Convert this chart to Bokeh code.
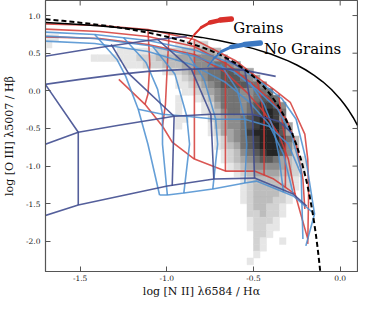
from bokeh.plotting import figure
from bokeh.models import FixedTicker, PrintfTickFormatter, ColumnDataSource
from bokeh.core.properties import value
from bokeh.embed import file_html
from bokeh.resources import INLINE

# ---------------- data ----------------
X_TICKS = [-1.5, -1.0, -0.5, 0.0]
Y_TICKS = [-2.0, -1.5, -1.0, -0.5, 0.0, 0.5, 1.0]

# Kewley et al. (2001) maximum starburst line (solid)
KEW_X = [-1.7, -1.6, -1.5, -1.4, -1.3, -1.2, -1.1, -1.0, -0.9, -0.8, -0.7, -0.6, -0.5,
         -0.4, -0.3, -0.25, -0.2, -0.15, -0.1, -0.05, 0.0, 0.025, 0.05, 0.075, 0.1]
KEW_Y = [0.909, 0.895, 0.880, 0.864, 0.845, 0.825, 0.801, 0.775, 0.745, 0.710, 0.669, 0.620, 0.561,
         0.489, 0.398, 0.343, 0.280, 0.206, 0.120, 0.017, -0.108, -0.181, -0.262, -0.354, -0.459]

# Kauffmann et al. (2003) line (dashed)
KAU_X = [-1.7, -1.6, -1.5, -1.4, -1.3, -1.2, -1.1, -1.0, -0.9, -0.8, -0.75, -0.7, -0.65, -0.6,
         -0.55, -0.5, -0.45, -0.4, -0.35, -0.325, -0.3, -0.275, -0.25, -0.225, -0.2, -0.19,
         -0.175, -0.16, -0.15, -0.14, -0.13, -0.12, -0.11]
KAU_Y = [0.951, 0.930, 0.906, 0.879, 0.848, 0.812, 0.770, 0.719, 0.658, 0.582, 0.538, 0.487, 0.429,
         0.362, 0.283, 0.191, 0.080, -0.056, -0.225, -0.327, -0.443, -0.577, -0.733, -0.918, -1.140,
         -1.242, -1.411, -1.605, -1.750, -1.911, -2.089, -2.288, -2.513]

# SDSS density histogram: (row, first column, digits = density level 0-9)
HIST_X0, HIST_DX = -1.7, 0.0375
HIST_Y0, HIST_DY = 1.2, 0.09
HEAT = [
    (5, 0, "11"),
    (6, 0, "1"), (6, 20, "11122"),
    (7, 11, "1111112222333443"),
    (8, 7, "111111122233344455543"),
    (9, 12, "111222333445556654"),
    (10, 18, "12234556677654"),
    (11, 20, "1234566777654"),
    (12, 20, "11234567777665"),
    (13, 21, "11234566655666"),
    (14, 20, "1"), (14, 23, "1235666556776"),
    (15, 20, "1"), (15, 24, "1246665678875"),
    (16, 20, "1"), (16, 24, "1235665678986"),
    (17, 20, "11"), (17, 25, "234556789985"),
    (18, 20, "1"), (18, 25, "1345567899974"),
    (19, 25, "1244568999974"),
    (20, 26, "1245678999863"),
    (21, 26, "1234678999853"),
    (22, 27, "123567899752"),
    (23, 27, "1234567764321"),
    (24, 28, "123455554321"),
    (25, 29, "12344443321"),
    (26, 30, "123333221"),
    (27, 30, "123333321"),
    (28, 30, "12333321"),
    (29, 30, "12333221"),
    (30, 31, "233221"),
    (31, 31, "223221"),
    (32, 31, "12221"),
    (33, 31, "12211"),
    (34, 32, "221"),
    (35, 32, "21"), (35, 36, "1"),
    (36, 32, "21"),
    (37, 32, "1"),
    (38, 31, "1"),
]
GREYS = ["#ffffff", "#e6e6e6", "#d2d2d2", "#bdbdbd", "#a5a5a5",
         "#8c8c8c", "#737373", "#595959", "#3e3e3e", "#252525"]

# model grid where both models coincide (dark blue)
DARK_X = [
    [-1.779, -1.511, -0.997, -0.729, -0.494, -0.271, -0.193],
    [-1.779, -1.511, -1.277, -0.958, -0.746, -0.506, -0.355, -0.271],
    [-1.779, -1.500, -1.277, -1.109, -0.885, -0.718, -0.550, -0.372],
    [-1.779, -1.500, -1.349, -1.109, -0.885],
    [-1.779, -1.701, -1.511, -1.511],
    [-1.321, -1.221, -0.958, -0.969],
    [-1.053, -0.858, -0.746, -0.729],
    [-0.662, -0.550, -0.506, -0.494],
]
DARK_Y = [
    [-1.715, -1.517, -1.265, -1.172, -1.159, -1.371, -1.530],
    [-0.775, -0.550, -0.457, -0.338, -0.311, -0.311, -0.404, -0.576],
    [0.060, 0.152, 0.219, 0.258, 0.285, 0.298, 0.272, 0.192],
    [0.430, 0.536, 0.589, 0.669, 0.722],
    [0.351, 0.086, -0.550, -1.517],
    [0.616, 0.232, -0.338, -1.265],
    [0.682, 0.285, -0.311, -1.172],
    [0.430, 0.272, -0.311, -1.159],
]

# "Grains" model grid (red)
RED_X = [
    [-1.779, -1.388, -1.109, -0.841, -0.606, -0.494, -0.383, -0.288, -0.243, -0.204, -0.187, -0.182, -0.187],
    [-1.779, -1.388, -1.109, -0.841, -0.651, -0.517, -0.405, -0.310, -0.254, -0.215, -0.204],
    [-1.779, -1.388, -1.109, -0.841, -0.662, -0.539, -0.439, -0.355, -0.299, -0.260],
    [-1.277, -1.126, -1.025, -0.969, -0.841, -0.662, -0.494, -0.383, -0.260, -0.187],
    [-1.109, -1.098, -1.109, -1.126],
    [-0.986, -0.997, -1.008, -1.025],
    [-0.841, -0.841, -0.841],
    [-0.662, -0.662, -0.662],
    [-0.483, -0.439, -0.439],
    [-0.355, -0.316, -0.316],
]
RED_Y = [
    [0.894, 0.868, 0.815, 0.682, 0.404, 0.205, 0.020, -0.152, -0.377, -0.576, -0.907, -1.371, -2.033],
    [0.828, 0.788, 0.722, 0.589, 0.351, 0.113, -0.113, -0.377, -0.709, -1.172, -1.570],
    [0.722, 0.695, 0.616, 0.483, 0.245, -0.020, -0.285, -0.576, -0.907, -1.371],
    [0.152, -0.179, -0.470, -0.682, -0.907, -1.066, -1.066, -1.172, -1.371, -1.967],
    [0.815, 0.351, -0.046, -0.179],
    [0.775, 0.351, -0.179, -0.470],
    [0.682, -0.046, -0.907],
    [0.457, -0.311, -1.066],
    [0.192, -0.311, -1.120],
    [-0.046, -0.709, -1.280],
]

# "No Grains" model grid (blue)
BLUE_X = [
    [-1.779, -1.416, -1.109, -0.830, -0.606, -0.466, -0.338, -0.254, -0.198, -0.148, -0.198],
    [-1.779, -1.416, -1.109, -0.830, -0.617, -0.483, -0.360, -0.282, -0.226, -0.215],
    [-1.779, -1.416, -1.109, -0.858, -0.662, -0.522, -0.411, -0.327, -0.271],
    [-1.165, -1.025, -0.885, -0.718, -0.550, -0.411, -0.299, -0.226],
    [-1.042, -0.997, -0.902, -0.735, -0.550, -0.483, -0.271, -0.148],
    [-1.416, -1.288, -1.237, -1.165, -1.109, -1.042],
    [-1.249, -1.120, -1.053, -1.025, -1.025, -0.997],
    [-1.081, -0.953, -0.885, -0.869, -0.902],
    [-0.885, -0.785, -0.718, -0.707, -0.735],
    [-0.690, -0.595, -0.550, -0.539, -0.550],
    [-0.522, -0.439, -0.383, -0.355, -0.327],
]
BLUE_Y = [
    [0.788, 0.748, 0.669, 0.536, 0.351, 0.126, -0.099, -0.377, -0.907, -1.636, -2.060],
    [0.735, 0.695, 0.603, 0.457, 0.258, 0.020, -0.245, -0.576, -1.040, -1.967],
    [0.669, 0.629, 0.523, 0.351, 0.113, -0.152, -0.444, -0.841, -1.371],
    [-0.245, -0.311, -0.338, -0.377, -0.377, -0.470, -0.709, -1.106],
    [-1.384, -1.384, -1.358, -1.305, -1.225, -1.199, -1.397, -1.636],
    [0.748, 0.417, 0.192, -0.245, -0.709, -1.384],
    [0.705, 0.377, 0.020, -0.311, -0.709, -1.384],
    [0.590, 0.219, -0.338, -0.709, -1.358],
    [0.510, 0.152, -0.377, -0.709, -1.305],
    [0.351, 0.020, -0.377, -0.709, -1.225],
    [0.113, -0.179, -0.510, -0.841, -1.345],
]

# label pointers
RED_PTR_X = [-0.628, -0.690, -0.751, -0.802, -0.841, -0.874]
RED_PTR_Y = [0.954, 0.940, 0.907, 0.841, 0.748, 0.642]
BLUE_PTR_X = [-0.461, -0.550, -0.628, -0.684, -0.729, -0.763]
BLUE_PTR_Y = [0.636, 0.616, 0.583, 0.523, 0.430, 0.325]
PTR_W = [5.5, 4.5, 3.0, 2.0, 1.3]
LABELS = ["Grains", "No Grains"]
LABEL_X = [-0.617, -0.439]
LABEL_Y = [0.841, 0.550]

# ---------------- styles ----------------
RED = "#d43a36"
BLUE = "#4a8ed0"
DARK = "#414e90"
FRAME = "#555555"
SERIF = "DejaVu Serif"
X_MIN, X_MAX = -1.7, 0.1
Y_MIN, Y_MAX = -2.4, 1.2

p = figure(width=358, height=300, x_range=(X_MIN, X_MAX), y_range=(Y_MIN, Y_MAX),
           output_backend="svg", toolbar_location=None,
           min_border_left=36, min_border_right=1, min_border_top=0, min_border_bottom=4)
xa = p.below[0]
ya = p.left[0]
p.grid.visible = False
p.outline_line_color = FRAME
p.outline_line_width = 1.2
p.background_fill_color = "white"

# histogram
left, right, top, bottom, cols = [], [], [], [], []
for row, start, digits in HEAT:
    for k, ch in enumerate(digits):
        v = int(ch)
        if v == 0:
            continue
        i = start + k
        left.append(HIST_X0 + i * HIST_DX)
        right.append(HIST_X0 + (i + 1) * HIST_DX)
        top.append(HIST_Y0 - row * HIST_DY)
        bottom.append(HIST_Y0 - (row + 1) * HIST_DY)
        cols.append(GREYS[v])
p.quad(left=left, right=right, top=top, bottom=bottom,
       fill_color=cols, line_color=cols, line_width=0.5)

# model grids
p.multi_line(xs=RED_X, ys=RED_Y, line_color=RED, line_width=1.6, line_alpha=0.85)
p.multi_line(xs=BLUE_X, ys=BLUE_Y, line_color=BLUE, line_width=1.6, line_alpha=0.85)
p.multi_line(xs=DARK_X, ys=DARK_Y, line_color=DARK, line_width=1.6, line_alpha=0.9)

# demarcation lines
p.line(KEW_X, KEW_Y, line_color="black", line_width=1.5)
p.line(KAU_X, KAU_Y, line_color="black", line_width=2.0, line_dash="5 3")

# pointers
for px_, py_, col in [(RED_PTR_X, RED_PTR_Y, "#d9302a"), (BLUE_PTR_X, BLUE_PTR_Y, "#3b78c2")]:
    segs_x = [[px_[k], px_[k + 1]] for k in range(len(px_) - 1)]
    segs_y = [[py_[k], py_[k + 1]] for k in range(len(py_) - 1)]
    src = ColumnDataSource(dict(xs=segs_x, ys=segs_y, w=PTR_W))
    p.multi_line(xs="xs", ys="ys", line_width="w", line_color=col, line_cap="round",
                 line_join="round", source=src)

p.text(x=LABEL_X, y=LABEL_Y, text=LABELS, text_font=value(SERIF), text_font_size="15px",
       text_color="black", text_baseline="alphabetic", text_align="left")

# inward tick marks on top and right edges (half of each dash is clipped by the frame)
p.scatter(x=X_TICKS, y=[Y_MAX] * len(X_TICKS), marker="dash", angle=1.5708, size=10,
          line_color=FRAME, line_width=1)
p.scatter(x=[X_MAX] * len(Y_TICKS), y=Y_TICKS, marker="dash", size=10,
          line_color=FRAME, line_width=1)

# axes
xa.ticker = FixedTicker(ticks=X_TICKS)
ya.ticker = FixedTicker(ticks=Y_TICKS)
xa.formatter = PrintfTickFormatter(format="%.1f")
ya.formatter = PrintfTickFormatter(format="%.1f")
xa.axis_label = "log [N II] λ6584 / Hα"
ya.axis_label = "log [O III] λ5007 / Hβ"

for ax in [xa, ya]:
    ax.major_tick_in = 5
    ax.major_tick_out = 0
    ax.minor_tick_line_color = None
    ax.major_tick_line_color = FRAME
    ax.axis_line_color = FRAME
    ax.major_label_text_font = SERIF
    ax.major_label_text_font_size = "7.5px"
    ax.major_label_text_color = "#222222"
    ax.axis_label_text_font = SERIF
    ax.axis_label_text_font_style = "normal"
    ax.axis_label_text_font_size = "11px"
    ax.axis_label_text_color = "#111111"
xa.major_label_standoff = 3
xa.axis_label_standoff = 1
ya.major_label_standoff = 5
ya.axis_label_standoff = 7

open("out.html", "w").write(file_html(p, INLINE))
